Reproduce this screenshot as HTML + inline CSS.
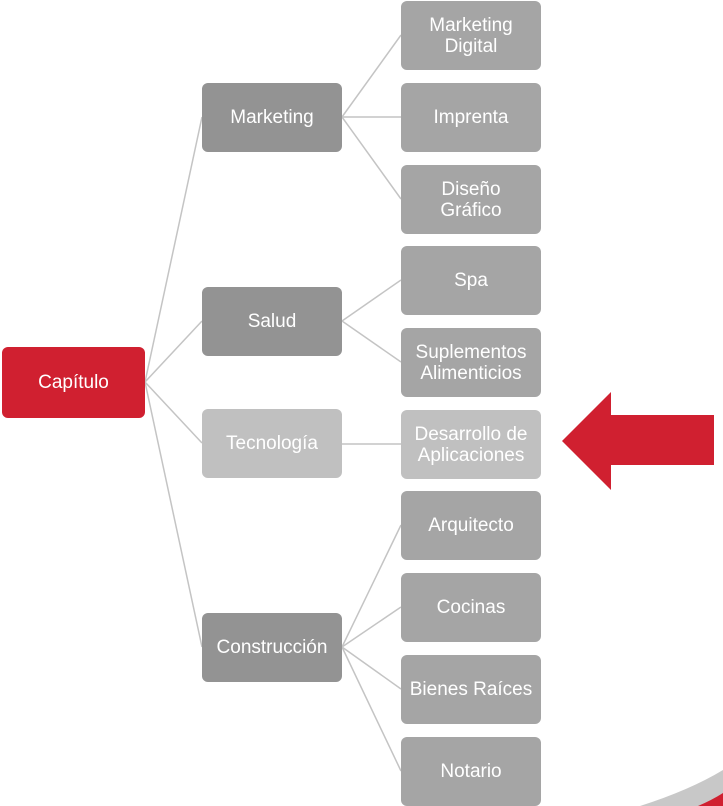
<!DOCTYPE html>
<html><head><meta charset="utf-8"><style>
body{margin:0;width:723px;height:806px;background:#fff;position:relative;overflow:hidden;font-family:"Liberation Sans",sans-serif}
.b{position:absolute;display:flex;align-items:center;justify-content:center;text-align:center;color:#fff;font-size:19px;line-height:21px;border-radius:6px;box-sizing:border-box}
.l2{left:202px;width:140px;height:69px;background:#939393}
.l3{left:401px;width:140px;height:69px;background:#a5a5a5}
svg{position:absolute;left:0;top:0}
</style></head><body>
<svg width="723" height="806">
<g stroke="#c4c4c4" stroke-width="1.5" fill="none">
<line x1="145" y1="382" x2="202" y2="117"/>
<line x1="145" y1="382" x2="202" y2="321"/>
<line x1="145" y1="382" x2="202" y2="443"/>
<line x1="145" y1="382" x2="202" y2="647"/>
<line x1="342" y1="117" x2="401" y2="35"/>
<line x1="342" y1="117" x2="401" y2="117"/>
<line x1="342" y1="117" x2="401" y2="199"/>
<line x1="342" y1="321" x2="401" y2="280"/>
<line x1="342" y1="321" x2="401" y2="362"/>
<line x1="342" y1="444" x2="401" y2="444"/>
<line x1="342" y1="647" x2="401" y2="525"/>
<line x1="342" y1="647" x2="401" y2="607"/>
<line x1="342" y1="647" x2="401" y2="689"/>
<line x1="342" y1="647" x2="401" y2="771"/>
</g>
<polygon points="562,441 611,392 611,415 714,415 714,465 611,465 611,490" fill="#d02030"/>
<path d="M640,806 Q690,790 723,770 L723,806 Z" fill="#c8c8c8"/>
<path d="M698,806 Q712,800 723,793 L723,806 Z" fill="#d02030"/>
</svg>
<div class="b" style="left:2px;top:347px;width:143px;height:71px;background:#d02030">Capítulo</div>
<div class="b l2" style="top:83px">Marketing</div>
<div class="b l2" style="top:287px">Salud</div>
<div class="b l2" style="top:409px;background:#c0c0c0">Tecnología</div>
<div class="b l2" style="top:613px">Construcción</div>
<div class="b l3" style="top:1px">Marketing<br>Digital</div>
<div class="b l3" style="top:83px">Imprenta</div>
<div class="b l3" style="top:165px">Diseño<br>Gráfico</div>
<div class="b l3" style="top:246px">Spa</div>
<div class="b l3" style="top:328px">Suplementos<br>Alimenticios</div>
<div class="b l3" style="top:410px;background:#c0c0c0">Desarrollo de<br>Aplicaciones</div>
<div class="b l3" style="top:491px">Arquitecto</div>
<div class="b l3" style="top:573px">Cocinas</div>
<div class="b l3" style="top:655px">Bienes Raíces</div>
<div class="b l3" style="top:737px">Notario</div>
</body></html>
